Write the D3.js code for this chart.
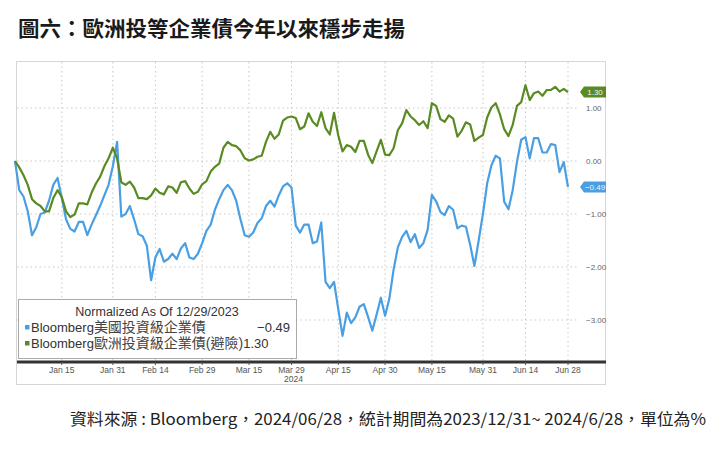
<!DOCTYPE html>
<html>
<head>
<meta charset="utf-8">
<script src="https://cdn.jsdelivr.net/npm/d3@7"></script>
<style>
  body { margin: 0; background: #fff; }
  svg { display: block; }
  .grid line { stroke: #c8c8c8; stroke-dasharray: 1.5 3; }
  .dataline { fill: none; stroke-width: 2.2; stroke-linejoin: round; }
</style>
</head>
<body>
<svg id="chart" width="725" height="453"></svg>
<script>
// business days from 12/29/2023 to 6/28/2024 (one value per day)
const dates = d3.timeDay.range(new Date(2023, 11, 29), new Date(2024, 5, 29))
    .filter(d => d.getDay() !== 0 && d.getDay() !== 6);

const usValues = [
  0.00, -0.55, -0.67, -0.95, -1.40, -1.25, -1.00, -0.97, -0.75, -0.45,
  -0.32, -0.70, -1.10, -1.28, -1.33, -1.15, -1.15, -1.40, -1.20, -1.03,
  -0.85, -0.65, -0.45, -0.10, 0.36, -1.05, -1.00, -0.85, -1.10, -1.38,
  -1.42, -1.60, -2.25, -1.82, -1.66, -1.90, -1.85, -1.75, -1.85, -1.65,
  -1.55, -1.82, -1.85, -1.75, -1.55, -1.32, -1.20, -0.92, -0.72, -0.55,
  -0.45, -0.55, -0.75, -1.10, -1.40, -1.43, -1.35, -1.17, -1.08, -0.85,
  -0.75, -0.86, -0.65, -0.48, -0.42, -0.50, -1.22, -1.35, -1.20, -1.20,
  -1.55, -1.52, -1.16, -2.28, -2.40, -2.28, -2.80, -3.30, -2.86, -3.06,
  -2.95, -2.75, -2.70, -2.94, -3.20, -2.90, -2.58, -2.92, -2.60, -2.05,
  -1.63, -1.43, -1.32, -1.53, -1.38, -1.64, -1.55, -1.30, -0.64, -0.76,
  -0.96, -1.02, -0.85, -0.92, -1.27, -1.22, -1.24, -1.58, -1.98, -1.50,
  -1.00, -0.42, -0.08, 0.10, 0.05, -0.77, -0.91, -0.55, -0.02, 0.40,
  0.45, 0.05, 0.43, 0.43, 0.16, 0.16, 0.32, 0.30, -0.21, -0.02,
  -0.49
];

const euValues = [
  0.00, -0.12, -0.27, -0.45, -0.72, -0.80, -0.85, -0.95, -0.95, -0.70,
  -0.55, -0.68, -0.95, -1.06, -1.01, -0.80, -0.80, -0.82, -0.60, -0.43,
  -0.30, -0.10, 0.05, 0.25, 0.05, -0.40, -0.45, -0.39, -0.50, -0.70,
  -0.70, -0.72, -0.65, -0.52, -0.60, -0.63, -0.48, -0.50, -0.60, -0.40,
  -0.38, -0.52, -0.62, -0.58, -0.44, -0.38, -0.20, -0.11, -0.05, 0.25,
  0.36, 0.30, 0.28, 0.20, 0.05, 0.01, 0.03, 0.08, 0.10, 0.36,
  0.55, 0.42, 0.50, 0.76, 0.82, 0.84, 0.81, 0.60, 0.65, 0.90,
  0.74, 0.66, 0.92, 0.62, 0.50, 0.91, 0.48, 0.18, 0.30, 0.27,
  0.17, 0.38, 0.38, 0.12, -0.04, 0.18, 0.40, 0.12, 0.11, 0.24,
  0.58, 0.71, 0.96, 0.84, 0.77, 0.68, 0.75, 0.62, 1.09, 1.04,
  0.79, 0.74, 0.86, 0.80, 0.46, 0.57, 0.73, 0.69, 0.38, 0.44,
  0.49, 0.82, 1.01, 1.09, 0.88, 0.60, 0.47, 0.68, 1.04, 1.11,
  1.43, 1.15, 1.28, 1.31, 1.23, 1.34, 1.34, 1.40, 1.31, 1.36,
  1.30
];

const seriesNames = ["美國投資級企業債", "歐洲投資級企業債(避險)"];
const seriesColors = ["#4a9fe3", "#5a8a22"];
const yTicks = [1, 0, -1, -2, -3];
const xTickDates = ["2024-01-15", "2024-01-31", "2024-02-14", "2024-02-29", "2024-03-15", "2024-03-29",
  "2024-04-15", "2024-04-30", "2024-05-15", "2024-05-31", "2024-06-14", "2024-06-28"];
const xTickLabels = ["Jan 15", "Jan 31", "Feb 14", "Feb 29", "Mar 15", "Mar 29",
  "Apr 15", "Apr 30", "May 15", "May 31", "Jun 14", "Jun 28"];

const fmt = d3.timeFormat("%Y-%m-%d");
const dateKeys = dates.map(fmt);

const svg = d3.select("#chart");
const cjk = "'Noto Sans CJK TC', 'Noto Sans', sans-serif";
const latin = "'Liberation Sans', Arial, 'Noto Sans CJK TC', sans-serif";

// title
svg.append("text")
    .attr("x", 18).attr("y", 36)
    .attr("font-family", cjk).attr("font-size", 21).attr("font-weight", "bold")
    .attr("fill", "#1a1a1a")
    .attr("textLength", 387).attr("lengthAdjust", "spacingAndGlyphs")
    .text("圖六：歐洲投等企業債今年以來穩步走揚");

// frame
svg.append("rect")
    .attr("x", 16.5).attr("y", 61.5).attr("width", 589).attr("height", 323)
    .attr("fill", "#fff").attr("stroke", "#d6d6d6");

const xScale = d3.scalePoint().domain(dateKeys).range([15, 568]);
const yScale = d3.scaleLinear().domain([-3, 1]).range([320, 108]);
const plotRight = 578, plotTop = 62, axisY = 362;

// grid
const grid = svg.append("g").classed("grid", true);
grid.selectAll("line.h")
    .data(yTicks)
    .join("line")
    .attr("class", "h")
    .attr("x1", 17).attr("x2", plotRight)
    .attr("y1", d => yScale(d)).attr("y2", d => yScale(d));
grid.selectAll("line.v")
    .data(xTickDates)
    .join("line")
    .attr("class", "v")
    .attr("x1", d => xScale(d)).attr("x2", d => xScale(d))
    .attr("y1", plotTop).attr("y2", axisY);

// right axis labels
svg.append("g")
    .selectAll("text")
    .data(yTicks)
    .join("text")
    .attr("x", 586).attr("y", d => yScale(d) + 3)
    .attr("font-family", latin).attr("font-size", 8).attr("fill", "#666")
    .text(d => d3.format(".2f")(d));

// lines
function AddLine(values, color) {
    const line = d3.line()
        .curve(d3.curveLinear)
        .x((d, i) => xScale(dateKeys[i]))
        .y(d => yScale(d));
    return svg.append("path")
        .classed("dataline", true)
        .attr("stroke", color)
        .attr("d", line(values));
}
AddLine(usValues, seriesColors[0]);
AddLine(euValues, seriesColors[1]);

// last value tags
function AddTag(value, color) {
    const y0 = yScale(value);
    const x0 = 580, x1 = 584, x2 = 606, h = 5.5;
    svg.append("path")
        .attr("d", `M${x0},${y0} L${x1},${y0 - h} L${x2},${y0 - h} L${x2},${y0 + h} L${x1},${y0 + h} Z`)
        .attr("fill", color);
    svg.append("text")
        .attr("x", 595).attr("y", y0 + 3)
        .attr("text-anchor", "middle")
        .attr("font-family", latin).attr("font-size", 8).attr("fill", "#f4f4f4")
        .text(d3.format(".2f")(value));
}
AddTag(euValues[euValues.length - 1], seriesColors[1]);
AddTag(usValues[usValues.length - 1], seriesColors[0]);

// x axis bar
svg.append("line")
    .attr("x1", 17).attr("x2", 606)
    .attr("y1", axisY).attr("y2", axisY)
    .attr("stroke", "#333").attr("stroke-width", 3);
svg.append("g")
    .selectAll("line")
    .data(xTickDates)
    .join("line")
    .attr("x1", d => xScale(d)).attr("x2", d => xScale(d))
    .attr("y1", axisY).attr("y2", axisY + 3)
    .attr("stroke", "#555");
svg.append("g")
    .selectAll("text")
    .data(xTickDates)
    .join("text")
    .attr("x", d => xScale(d)).attr("y", 373)
    .attr("text-anchor", "middle")
    .attr("font-family", latin).attr("font-size", 8.5).attr("fill", "#555")
    .text((d, i) => xTickLabels[i]);
svg.append("text")
    .attr("x", xScale("2024-03-29") + 2).attr("y", 382)
    .attr("text-anchor", "middle")
    .attr("font-family", latin).attr("font-size", 8.5).attr("fill", "#555")
    .text("2024");

// legend
const legend = svg.append("g");
legend.append("rect")
    .attr("x", 18.5).attr("y", 299.5).attr("width", 278).attr("height", 59)
    .attr("fill", "#fff").attr("stroke", "#aaa");
legend.append("text")
    .attr("x", 157).attr("y", 316)
    .attr("text-anchor", "middle")
    .attr("font-family", latin).attr("font-size", 12.5).attr("fill", "#333")
    .text("Normalized As Of 12/29/2023");
const lastValues = [usValues[usValues.length - 1], euValues[euValues.length - 1]];
seriesNames.forEach((name, i) => {
    const yy = 332 + i * 16;
    legend.append("rect")
        .attr("x", 25).attr("y", yy - 7).attr("width", 4.5).attr("height", 4.5)
        .attr("fill", seriesColors[i]);
    const t = legend.append("text")
        .attr("x", 31).attr("y", yy)
        .attr("font-family", latin).attr("font-size", 13)
        .attr("fill", "#333");
    t.append("tspan").text("Bloomberg");
    t.append("tspan")
        .attr("font-size", 14).attr("fill", "#444")
        .text(name);
    if (i === 0) {
        legend.append("text")
            .attr("x", 290).attr("y", yy)
            .attr("text-anchor", "end")
            .attr("font-family", latin).attr("font-size", 13).attr("fill", "#333")
            .text(d3.format(".2f")(lastValues[i]));
    } else {
        t.append("tspan").text(d3.format(".2f")(lastValues[i]));
    }
});

// source note
svg.append("text")
    .attr("x", 70).attr("y", 425)
    .attr("font-family", cjk).attr("font-size", 16).attr("fill", "#222")
    .attr("textLength", 636).attr("lengthAdjust", "spacingAndGlyphs")
    .text("資料來源 : Bloomberg，2024/06/28，統計期間為2023/12/31~ 2024/6/28，單位為%");
</script>
</body>
</html>
